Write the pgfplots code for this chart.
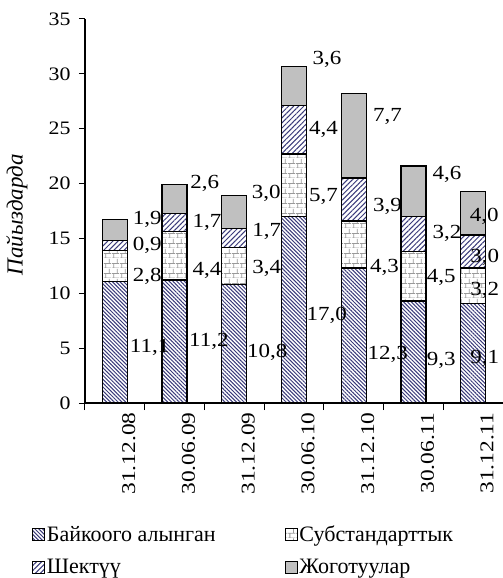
\documentclass[border=0pt]{standalone}
\usepackage{fontspec}
\setmainfont{Liberation Serif}
\newfontfamily\wideA[FakeStretch=1.15]{Liberation Serif}
\newfontfamily\wideB[FakeStretch=1.2]{Liberation Serif}
\usepackage{pgfplots}
\usepackage{pgfplotstable}
\pgfplotsset{compat=1.18}
\usetikzlibrary{patterns,patterns.meta}

\pgfdeclarepatternformonly{mybricks}{\pgfpointorigin}{\pgfpoint{8pt}{10pt}}{\pgfpoint{8pt}{10pt}}{%
 \pgfsetlinewidth{0.9pt}%
 \pgfpathmoveto{\pgfpoint{0pt}{0pt}}\pgfpathlineto{\pgfpoint{8pt}{0pt}}%
 \pgfpathmoveto{\pgfpoint{0pt}{5pt}}\pgfpathlineto{\pgfpoint{8pt}{5pt}}%
 \pgfpathmoveto{\pgfpoint{2pt}{0pt}}\pgfpathlineto{\pgfpoint{2pt}{5pt}}%
 \pgfpathmoveto{\pgfpoint{6pt}{5pt}}\pgfpathlineto{\pgfpoint{6pt}{10pt}}%
 \pgfusepath{stroke}}

\definecolor{hatchA}{HTML}{3A3A7A}
\definecolor{hatchB}{HTML}{3A3A7A}
\definecolor{brickc}{HTML}{9A9A9A}
\definecolor{lossc}{HTML}{C0C0C0}

\pgfplotstableread{
x a b c d
0 11.1 2.8 0.9 1.9
1 11.2 4.4 1.7 2.6
2 10.8 3.4 1.7 3.0
3 17.0 5.7 4.4 3.6
4 12.3 4.3 3.9 7.7
5 9.3 4.5 3.2 4.6
6 9.1 3.2 3.0 4.0
}\datatable

\pgfplotstableread{
x y label
0.30 16.7 1,9
0.30 14.4 0,9
0.30 11.5 2,8
0.25 5.1 11,1
1.26 20.05 2,6
1.30 16.5 1,7
1.30 12.1 4,4
1.24 5.6 11,2
2.29 19.1 3,0
2.30 15.6 1,7
2.30 12.3 3,4
2.21 4.6 10,8
3.31 31.3 3,6
3.25 24.9 4,4
3.25 18.8 5,7
3.21 8.0 17,0
4.32 26.1 7,7
4.32 17.9 3,9
4.27 12.4 4,3
4.23 4.4 12,3
5.32 20.8 4,6
5.32 15.5 3,2
5.22 11.4 4,5
5.22 3.9 9,3
5.94 17.0 4,0
5.95 13.3 3,0
5.95 10.3 3,2
5.95 4.1 9,1
}\labeltable

\pgfplotsset{
  mylegend/.style={legend image code/.code={\draw[##1, line width=0.8pt] (0pt,-6pt) rectangle (12pt,6pt);}},
}

\begin{document}
\begin{tikzpicture}
\begin{axis}[
  scale only axis, width=418pt, height=384pt,
  ybar stacked, bar width=0.42,
  xmin=-0.5, xmax=6.5, ymin=0, ymax=35,
  ytick={0,5,...,35},
  xtick={0,...,6},
  xticklabels={31.12.08,30.06.09,31.12.09,30.06.10,31.12.10,30.06.11,31.12.11},
  minor xtick={-0.5,0.5,...,6.5},
  axis lines=left, axis line style={-, line width=1.2pt},
  tick align=outside, major tick length=6pt, minor tick length=7pt,
  major x tick style={draw=none},
  minor x tick style={line width=1pt, black},
  ytick style={line width=1pt, black},
  /pgf/number format/assume math mode=true,
  yticklabel style={font=\wideA\fontsize{19}{21}\selectfont, xshift=-5pt},
  xticklabel style={font=\wideB\fontsize{19.5}{22}\selectfont, rotate=90, anchor=east, yshift=-14pt},
  ylabel={\itshape Пайыздарда},
  ylabel style={font=\fontsize{23}{26}\selectfont, at={(axis description cs:-0.163,0.49)}, anchor=center},
  legend columns=2,
  legend cell align=left,
  legend style={draw=none, fill=none, at={(axis description cs:-0.127,-0.315)}, anchor=north west,
    font=\fontsize{22}{26}\selectfont, inner sep=0pt, row sep=12pt,
    /tikz/every even column/.append style={column sep=67pt}},
]
\coordinate (O) at (rel axis cs:0,0);
\addplot[mylegend, draw=black, line width=1.3pt, fill=white, postaction={pattern={Lines[angle=-45,distance=2.7pt,line width=1pt]}, pattern color=hatchA}] table[x=x, y=a] {\datatable};
\addplot[mylegend, draw=black, line width=1.3pt, fill=white, postaction={pattern=mybricks, pattern color=brickc}] table[x=x, y=b] {\datatable};
\addplot[mylegend, draw=black, line width=1.3pt, fill=white, postaction={pattern={Lines[angle=45,distance=3.6pt,line width=1pt]}, pattern color=hatchB}] table[x=x, y=c] {\datatable};
\addplot[mylegend, draw=black, line width=1.3pt, fill=lossc] table[x=x, y=d] {\datatable};
\legend{Байкоого алынган, Субстандарттык, Шектүү, Жоготуулар}
\end{axis}
\begin{axis}[
  scale only axis, width=418pt, height=384pt,
  xmin=-0.5, xmax=6.5, ymin=0, ymax=35,
  hide axis,
]
\addplot[draw=none, mark=none, nodes near coords, point meta=explicit symbolic,
  nodes near coords style={anchor=west, inner sep=0pt, font=\wideA\fontsize{20}{24}\selectfont, text=black}]
  table[x=x, y=y, meta=label] {\labeltable};
\end{axis}
\pgfresetboundingbox
\path[use as bounding box] ([shift={(-85pt,-175pt)}]O) rectangle ++(503pt,578pt);
\end{tikzpicture}
\end{document}
